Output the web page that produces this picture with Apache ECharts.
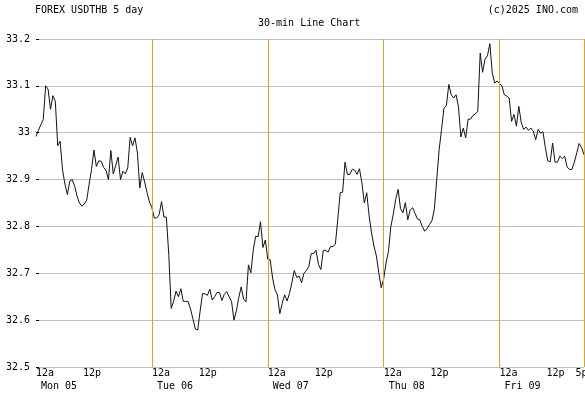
<!DOCTYPE html>
<html><head><meta charset="utf-8">
<script src="https://cdn.jsdelivr.net/npm/echarts@6/dist/echarts.min.js"></script>
<style>html,body{margin:0;padding:0;background:#fff}#c{width:585px;height:394px}</style>
</head><body><div id="c"></div>
<script>
// 30-min closes, USD/THB
const mon = [32.992,33.005,33.017,33.028,33.100,33.093,33.050,33.079,33.067,32.972,
32.982,32.920,32.890,32.868,32.897,32.900,32.886,32.865,32.850,32.843,
32.848,32.856,32.890,32.921,32.963,32.928,32.940,32.939,32.926,32.920,
32.900,32.962,32.912,32.930,32.948,32.900,32.918,32.912,32.925,32.990,
32.972,32.989,32.957,32.882,32.915,32.895,32.872,32.852];
const tue = [32.840,32.818,32.818,32.825,32.853,32.820,32.820,32.740,32.625,32.640,
32.662,32.650,32.667,32.640,32.640,32.640,32.624,32.603,32.581,32.579,
32.620,32.657,32.656,32.653,32.666,32.643,32.650,32.659,32.659,32.642,
32.655,32.661,32.650,32.640,32.600,32.620,32.648,32.671,32.645,32.639,
32.718,32.701,32.750,32.779,32.778,32.810,32.755,32.771];
const wed = [32.730,32.729,32.690,32.665,32.654,32.614,32.636,32.654,32.641,32.657,
32.680,32.706,32.691,32.694,32.680,32.700,32.706,32.714,32.742,32.742,
32.749,32.719,32.708,32.749,32.749,32.745,32.757,32.757,32.762,32.815,
32.872,32.873,32.937,32.911,32.911,32.922,32.920,32.911,32.923,32.893,
32.850,32.872,32.822,32.786,32.758,32.737,32.701,32.669];
const thu = [32.687,32.722,32.747,32.800,32.826,32.858,32.879,32.838,32.829,32.851,
32.814,32.835,32.840,32.828,32.816,32.814,32.800,32.790,32.795,32.804,
32.812,32.836,32.900,32.964,33.007,33.053,33.058,33.103,33.081,33.074,
33.081,33.055,32.991,33.010,32.989,33.029,33.029,33.037,33.040,33.046,
33.170,33.129,33.157,33.164,33.190,33.128,33.106,33.110];
const fri = [33.105,33.100,33.081,33.078,33.074,33.024,33.039,33.014,33.056,33.022,
33.007,33.012,33.005,33.010,33.003,32.985,33.007,32.999,33.002,32.968,
32.940,32.938,32.978,32.937,32.937,32.950,32.945,32.950,32.927,32.921,
32.922,32.937,32.957,32.977,32.968,32.953];

const dayLabels = ['Mon 05','Tue 06','Wed 07','Thu 08','Fri 09'];
const dayStarts = [0,48,96,144,192];
const noonTicks = [24,72,120,168,216];
const noonLabel = '12p';
const midnightLabel = '12a';
const lastTick = 226, lastLabel = '5p';
const dayLines = [48,96,144,192,227];
const xMax = 227;
const yMin = 32.5, yMax = 33.2, yStep = 0.1;

const values = [].concat(mon, tue, wed, thu, fri);
const data = values.map((v, i) => [i, v]);
const font = 'DejaVu Sans Mono';
const orange = '#E0A020';

const chart = echarts.init(document.getElementById('c'), null, {renderer: 'canvas'});
chart.setOption({
  animation: false,
  backgroundColor: '#fff',
  title: [
    {text: 'FOREX USDTHB 5 day', left: 35, top: 5, padding: 0,
     textStyle: {fontFamily: font, fontSize: 10, fontWeight: 'normal', color: '#000'}},
    {text: '30-min Line Chart', left: 258, top: 18, padding: 0,
     textStyle: {fontFamily: font, fontSize: 10, fontWeight: 'normal', color: '#000'}},
    {text: '(c)2025 INO.com', right: 7, top: 5, padding: 0,
     textStyle: {fontFamily: font, fontSize: 10, fontWeight: 'normal', color: '#000'}}
  ],
  grid: {left: 36, top: 39, width: 548, height: 328, containLabel: false, outerBoundsMode: 'none'},
  xAxis: [
    {type: 'value', min: 0, max: xMax, interval: 1, position: 'bottom',
     axisLine: {show: false}, axisTick: {show: false}, splitLine: {show: false},
     axisLabel: {
       customValues: dayStarts, align: 'left', margin: 0,
       formatter: v => '{h|' + midnightLabel + '}\n{d|' + dayLabels[dayStarts.indexOf(v)] + '}',
       rich: {
         h: {fontFamily: font, fontSize: 10, color: '#000', lineHeight: 13},
         d: {fontFamily: font, fontSize: 10, color: '#000', lineHeight: 13, padding: [0,0,0,5]}
       }
     }},
    {type: 'value', min: 0, max: xMax, interval: 1, position: 'bottom',
     axisLine: {show: false}, axisTick: {show: false}, splitLine: {show: false},
     axisLabel: {
       customValues: noonTicks.concat([lastTick]), align: 'center', margin: 0,
       formatter: v => v === lastTick ? '{q|' + lastLabel + '}' : '{p|' + noonLabel + '}',
       rich: {
         p: {fontFamily: font, fontSize: 10, color: '#000', lineHeight: 13, padding: [0,4,0,0]},
         q: {fontFamily: font, fontSize: 10, color: '#000', lineHeight: 13}
       }
     }}
  ],
  yAxis: {
    type: 'value', min: yMin, max: yMax, interval: yStep,
    axisLine: {show: false},
    axisTick: {show: true, inside: true, length: 3, lineStyle: {color: '#000'}},
    axisLabel: {margin: 6, fontFamily: font, fontSize: 10, color: '#000',
      formatter: v => String(+v.toFixed(1))},
    splitLine: {show: true, lineStyle: {color: '#c0c0c0', width: 1}}
  },
  series: [{
    type: 'line', xAxisIndex: 0, data: data, showSymbol: false, symbol: 'none',
    lineStyle: {color: '#111', width: 1},
    markLine: {
      silent: true, symbol: ['none','none'], label: {show: false},
      lineStyle: {color: orange, type: 'solid', width: 1},
      data: dayLines.map(x => ({xAxis: x}))
    }
  }]
});
</script></body></html>
